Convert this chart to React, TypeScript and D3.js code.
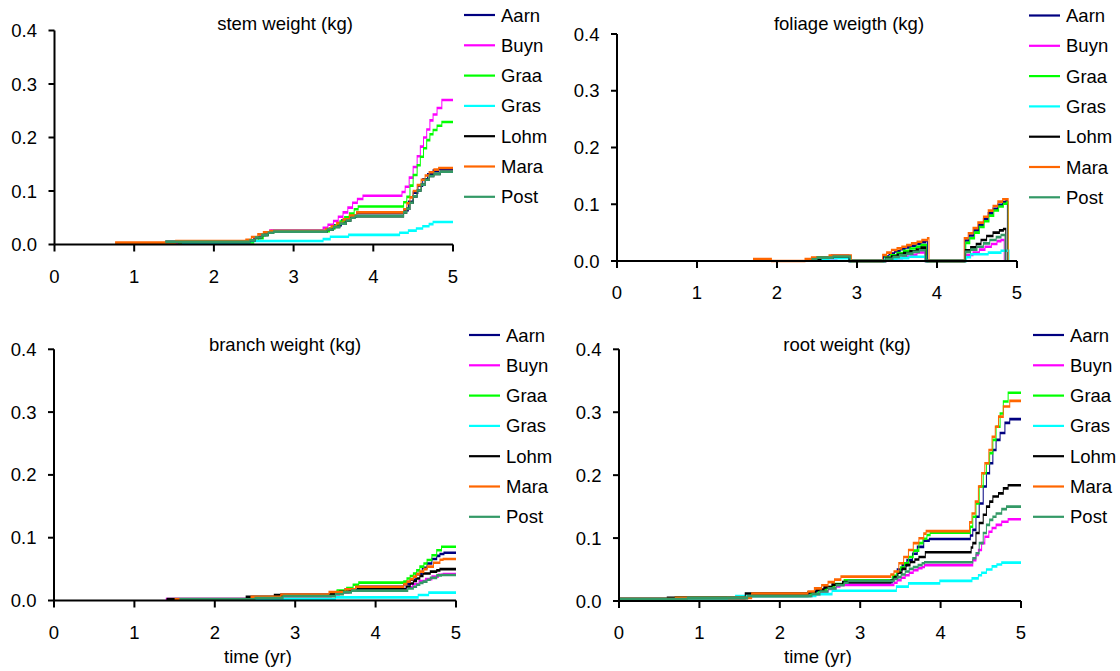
import React from 'react';
import * as d3 from 'd3';

type Pt = [number, number];

const SERIES = ['Aarn', 'Buyn', 'Graa', 'Gras', 'Lohm', 'Mara', 'Post'];
const COLORS = ['#000080', '#FF00FF', '#00FF00', '#00FFFF', '#000000', '#FF6600', '#339966'];
const X_TICKS = [0, 1, 2, 3, 4, 5];
const Y_TICKS = [0, 0.1, 0.2, 0.3, 0.4];
const Y_TICK_LABELS = ['0.0', '0.1', '0.2', '0.3', '0.4'];
const TITLES = ['stem weight (kg)', 'foliage weigth (kg)', 'branch weight (kg)', 'root weight (kg)'];
const X_LABEL = 'time (yr)';

// order: Aarn, Buyn, Graa, Gras, Lohm, Mara, Post
const stemSeries: Pt[][] = [
  [[1.5,0.004],[2.42,0.008],[2.5,0.013],[2.58,0.018],[2.65,0.022],[2.72,0.025],[3.4,0.029],[3.5,0.036],[3.6,0.045],[3.7,0.053],[3.79,0.059],[4.38,0.064],[4.44,0.080],[4.5,0.097],[4.56,0.110],[4.62,0.122],[4.68,0.131],[4.75,0.138],[4.82,0.141],[5,0.141]],
  [[1.45,0.003],[2.45,0.007],[2.52,0.012],[2.58,0.018],[2.63,0.022],[2.7,0.026],[3.37,0.031],[3.43,0.037],[3.5,0.044],[3.56,0.052],[3.62,0.060],[3.68,0.069],[3.74,0.078],[3.8,0.085],[3.87,0.091],[4.36,0.098],[4.4,0.108],[4.45,0.125],[4.5,0.145],[4.55,0.165],[4.59,0.183],[4.63,0.200],[4.67,0.215],[4.71,0.232],[4.75,0.243],[4.8,0.255],[4.86,0.270],[5,0.270]],
  [[1.55,0.004],[2.5,0.007],[2.56,0.012],[2.62,0.018],[2.68,0.022],[2.75,0.025],[3.45,0.030],[3.52,0.036],[3.58,0.043],[3.64,0.051],[3.7,0.058],[3.76,0.066],[3.81,0.071],[4.38,0.079],[4.42,0.089],[4.46,0.110],[4.5,0.130],[4.55,0.148],[4.59,0.164],[4.63,0.180],[4.67,0.195],[4.71,0.206],[4.75,0.214],[4.8,0.222],[4.86,0.229],[5,0.229]],
  [[1.6,0.003],[2.45,0.0065],[3.37,0.010],[3.46,0.0146],[3.69,0.018],[4.33,0.022],[4.44,0.026],[4.54,0.030],[4.62,0.034],[4.7,0.038],[4.75,0.042],[5,0.042]],
  [[1.39,0.005],[2.45,0.008],[2.52,0.013],[2.6,0.018],[2.68,0.022],[2.75,0.024],[3.42,0.028],[3.5,0.033],[3.58,0.039],[3.66,0.045],[3.72,0.050],[3.77,0.053],[4.38,0.060],[4.42,0.067],[4.46,0.078],[4.5,0.090],[4.55,0.101],[4.6,0.112],[4.65,0.121],[4.7,0.128],[4.76,0.132],[4.84,0.136],[5,0.136]],
  [[0.76,0.0035],[1.52,0.0065],[2.4,0.009],[2.47,0.014],[2.55,0.019],[2.62,0.023],[2.7,0.025],[3.4,0.029],[3.47,0.034],[3.54,0.040],[3.62,0.047],[3.7,0.054],[3.79,0.060],[4.38,0.066],[4.42,0.077],[4.46,0.088],[4.5,0.100],[4.55,0.111],[4.6,0.121],[4.65,0.129],[4.7,0.135],[4.76,0.140],[4.82,0.143],[5,0.143]],
  [[1.39,0.005],[2.45,0.008],[2.52,0.013],[2.6,0.018],[2.68,0.022],[2.75,0.024],[3.42,0.028],[3.5,0.033],[3.58,0.039],[3.66,0.045],[3.72,0.050],[3.77,0.053],[4.38,0.060],[4.42,0.067],[4.46,0.078],[4.5,0.090],[4.55,0.101],[4.6,0.112],[4.65,0.121],[4.7,0.128],[4.76,0.132],[4.84,0.136],[5,0.136]],
];

const foliageSeries: Pt[][] = [
  [[2.4,0.003],[2.5,0.006],[2.68,0.009],[2.9,0],[3.33,0.008],[3.4,0.013],[3.47,0.017],[3.54,0.021],[3.6,0.024],[3.67,0.027],[3.74,0.030],[3.8,0.033],[3.86,0.036],[3.88,0],[4.35,0.036],[4.4,0.045],[4.46,0.054],[4.52,0.064],[4.58,0.074],[4.64,0.084],[4.7,0.092],[4.76,0.099],[4.82,0.104],[4.86,0.106],[4.88,0]],
  [[2.45,0.002],[2.6,0.005],[2.75,0.007],[2.9,0],[3.37,0.003],[3.47,0.005],[3.57,0.008],[3.67,0.011],[3.75,0.015],[3.85,0],[4.36,0.0106],[4.45,0.015],[4.53,0.020],[4.6,0.025],[4.68,0.030],[4.75,0.035],[4.8,0.037],[4.84,0]],
  [[2.42,0.003],[2.5,0.006],[2.7,0.008],[2.9,0],[3.35,0.006],[3.42,0.010],[3.5,0.014],[3.58,0.018],[3.66,0.022],[3.74,0.025],[3.8,0.028],[3.87,0],[4.36,0.032],[4.41,0.040],[4.47,0.050],[4.53,0.060],[4.59,0.070],[4.65,0.080],[4.71,0.089],[4.77,0.096],[4.83,0.101],[4.87,0.103],[4.89,0]],
  [[2.5,0.002],[2.65,0.005],[2.92,0],[3.35,0.003],[3.5,0.005],[3.65,0.0076],[3.86,0],[4.37,0.0065],[4.42,0.0118],[4.64,0.0147],[4.8,0.018],[4.9,0]],
  [[2.42,0.003],[2.55,0.006],[2.7,0.008],[2.9,0],[3.36,0.005],[3.43,0.008],[3.5,0.011],[3.58,0.014],[3.66,0.017],[3.74,0.020],[3.8,0.0235],[3.86,0],[4.35,0.019],[4.42,0.024],[4.49,0.030],[4.55,0.037],[4.62,0.044],[4.7,0.050],[4.78,0.054],[4.83,0.0564],[4.86,0]],
  [[1.7,0.0035],[1.93,0],[2.35,0.0035],[2.43,0.006],[2.65,0.0095],[2.93,0],[3.32,0.0106],[3.37,0.0147],[3.43,0.0194],[3.5,0.0223],[3.56,0.025],[3.62,0.028],[3.68,0.031],[3.75,0.034],[3.81,0.037],[3.88,0.040],[3.9,0],[4.34,0.040],[4.39,0.049],[4.45,0.058],[4.51,0.0676],[4.58,0.078],[4.64,0.0887],[4.7,0.097],[4.76,0.1046],[4.82,0.1087],[4.89,0]],
  [[2.43,0.003],[2.5,0.006],[2.7,0.008],[2.92,0],[3.36,0.004],[3.45,0.007],[3.53,0.010],[3.62,0.013],[3.7,0.016],[3.78,0.019],[3.85,0],[4.35,0.016],[4.42,0.020],[4.5,0.025],[4.58,0.031],[4.66,0.037],[4.74,0.042],[4.8,0.0458],[4.85,0]],
];

const branchSeries: Pt[][] = [
  [[1.45,0.002],[2.45,0.005],[2.82,0.009],[3.44,0.012],[3.52,0.014],[3.62,0.018],[3.75,0.022],[4.35,0.026],[4.43,0.033],[4.5,0.042],[4.58,0.052],[4.64,0.059],[4.7,0.066],[4.76,0.071],[4.8,0.074],[4.85,0.076],[5,0.076]],
  [[1.39,0.0024],[2.45,0.004],[2.8,0.007],[3.45,0.010],[3.55,0.013],[3.67,0.016],[3.77,0.0178],[4.38,0.021],[4.46,0.026],[4.54,0.031],[4.62,0.034],[4.7,0.038],[4.78,0.041],[4.84,0.042],[5,0.042]],
  [[1.58,0.002],[2.45,0.004],[2.8,0.008],[3.44,0.012],[3.52,0.0157],[3.64,0.020],[3.72,0.025],[3.79,0.0284],[4.35,0.030],[4.39,0.035],[4.43,0.039],[4.47,0.043],[4.51,0.048],[4.55,0.054],[4.6,0.059],[4.64,0.0645],[4.7,0.072],[4.76,0.080],[4.82,0.0857],[5,0.0857]],
  [[1.55,0.0015],[2.45,0.0025],[3.5,0.005],[4.53,0.0088],[4.66,0.0125],[5,0.0125]],
  [[1.4,0.0024],[2.39,0.006],[2.74,0.0088],[3.44,0.011],[3.55,0.014],[3.67,0.016],[3.77,0.018],[4.38,0.022],[4.43,0.027],[4.47,0.031],[4.51,0.035],[4.55,0.039],[4.59,0.043],[4.68,0.046],[4.76,0.048],[4.8,0.050],[5,0.050]],
  [[1.5,0.002],[2.45,0.006],[2.82,0.0095],[3.42,0.0136],[3.62,0.018],[3.75,0.022],[4.35,0.026],[4.39,0.030],[4.43,0.034],[4.47,0.038],[4.51,0.042],[4.55,0.046],[4.6,0.050],[4.64,0.054],[4.72,0.060],[4.8,0.065],[4.84,0.066],[5,0.066]],
  [[1.56,0.002],[2.5,0.004],[2.85,0.007],[3.5,0.010],[3.6,0.013],[3.7,0.0157],[4.4,0.019],[4.47,0.022],[4.51,0.025],[4.55,0.028],[4.59,0.030],[4.64,0.033],[4.68,0.036],[4.76,0.040],[4.82,0.0406],[5,0.0406]],
];

const rootSeries: Pt[][] = [
  [[0,0.003],[0.7,0.005],[1.6,0.008],[2.35,0.012],[2.45,0.016],[2.55,0.021],[2.65,0.026],[2.8,0.030],[3.4,0.036],[3.46,0.050],[3.52,0.057],[3.58,0.065],[3.65,0.075],[3.71,0.086],[3.79,0.096],[3.86,0.0986],[4.37,0.104],[4.4,0.113],[4.44,0.134],[4.48,0.155],[4.53,0.182],[4.57,0.203],[4.61,0.219],[4.65,0.240],[4.69,0.256],[4.74,0.267],[4.8,0.283],[4.86,0.289],[5,0.289]],
  [[0,0.003],[0.8,0.005],[1.6,0.008],[2.4,0.011],[2.5,0.015],[2.6,0.019],[2.7,0.023],[2.75,0.0254],[3.42,0.029],[3.46,0.033],[3.51,0.037],[3.56,0.041],[3.61,0.045],[3.66,0.049],[3.72,0.052],[3.77,0.054],[3.8,0.057],[4.4,0.065],[4.44,0.073],[4.47,0.081],[4.51,0.092],[4.55,0.102],[4.6,0.110],[4.64,0.116],[4.69,0.121],[4.76,0.126],[4.84,0.130],[5,0.130]],
  [[0,0.003],[0.7,0.005],[1.6,0.008],[2.38,0.012],[2.48,0.017],[2.58,0.022],[2.68,0.027],[2.8,0.033],[3.4,0.040],[3.45,0.046],[3.5,0.053],[3.55,0.060],[3.6,0.070],[3.66,0.080],[3.73,0.092],[3.78,0.099],[3.83,0.105],[3.87,0.1086],[4.37,0.118],[4.4,0.134],[4.44,0.155],[4.48,0.182],[4.53,0.203],[4.57,0.219],[4.61,0.235],[4.65,0.256],[4.69,0.277],[4.74,0.298],[4.78,0.317],[4.84,0.331],[5,0.331]],
  [[0,0.002],[1.35,0.005],[1.45,0.008],[2.45,0.011],[2.65,0.0164],[3.45,0.0228],[3.6,0.028],[3.99,0.032],[4.39,0.036],[4.47,0.041],[4.51,0.045],[4.57,0.050],[4.64,0.055],[4.7,0.058],[4.76,0.061],[5,0.061]],
  [[0,0.003],[0.6,0.005],[1.57,0.012],[2.35,0.014],[2.45,0.018],[2.55,0.022],[2.65,0.026],[2.78,0.030],[3.38,0.033],[3.42,0.038],[3.47,0.045],[3.52,0.051],[3.57,0.057],[3.62,0.062],[3.68,0.066],[3.73,0.070],[3.81,0.0774],[4.38,0.085],[4.4,0.092],[4.44,0.108],[4.48,0.124],[4.53,0.137],[4.57,0.150],[4.61,0.158],[4.65,0.166],[4.72,0.171],[4.78,0.179],[4.84,0.184],[5,0.184]],
  [[0,0.003],[0.7,0.005],[1.65,0.012],[2.35,0.015],[2.43,0.020],[2.52,0.025],[2.6,0.030],[2.68,0.034],[2.76,0.0387],[3.38,0.042],[3.42,0.047],[3.48,0.060],[3.54,0.070],[3.6,0.081],[3.66,0.092],[3.73,0.0997],[3.79,0.107],[3.82,0.111],[4.36,0.125],[4.39,0.139],[4.43,0.158],[4.47,0.182],[4.51,0.203],[4.55,0.219],[4.6,0.240],[4.64,0.261],[4.68,0.277],[4.72,0.293],[4.78,0.309],[4.86,0.318],[5,0.318]],
  [[0,0.003],[0.85,0.005],[1.6,0.008],[2.4,0.011],[2.5,0.015],[2.6,0.020],[2.7,0.025],[2.8,0.029],[2.85,0.032],[3.42,0.035],[3.46,0.038],[3.51,0.042],[3.56,0.047],[3.61,0.051],[3.66,0.054],[3.72,0.057],[3.77,0.060],[3.8,0.0615],[4.4,0.068],[4.44,0.076],[4.48,0.092],[4.53,0.108],[4.57,0.121],[4.61,0.129],[4.65,0.134],[4.69,0.139],[4.76,0.146],[4.82,0.150],[5,0.150]],
];

const PANEL_DATA = [stemSeries, foliageSeries, branchSeries, rootSeries];

// layout (pixels)
const LAYOUT = [
  { x0: 54.5, x1: 453, yB: 244.5, yT: 30.5, tx: 285, ty: 23, lx: 464, ly: 15, xl: null as null | number },
  { x0: 617, x1: 1017, yB: 261, yT: 34, tx: 849, ty: 23, lx: 1029, ly: 15.5, xl: null as null | number },
  { x0: 54, x1: 456, yB: 600.5, yT: 349.3, tx: 285, ty: 344, lx: 469, ly: 335, xl: 258 },
  { x0: 619, x1: 1021, yB: 601, yT: 349.3, tx: 847, ty: 344, lx: 1033, ly: 335, xl: 818 },
];

const FONT = "Arial, 'Liberation Sans', sans-serif";
const FS = 18.5;
const K = 2.6; // non-uniform stroke: thick horizontals, thin verticals

function Panel({ idx }: { idx: number }) {
  const L = LAYOUT[idx];
  const data = PANEL_DATA[idx];
  const xs = d3.scaleLinear().domain([0, 5]).range([L.x0, L.x1]);
  const ys = d3.scaleLinear().domain([0, 0.4]).range([L.yB, L.yT]);
  const line = d3
    .line<Pt>()
    .x((d) => xs(d[0]))
    .y((d) => ys(d[1]) / K)
    .curve(d3.curveStepAfter);
  return (
    <g>
      <text x={L.tx} y={L.ty} textAnchor="middle" dominantBaseline="central" fontSize={FS} fontFamily={FONT} fill="#000">
        {TITLES[idx]}
      </text>
      <g transform={`scale(1,${K})`}>
        {data.map((s, i) => (
          <path key={i} d={line(s) || ''} fill="none" stroke={COLORS[i]} strokeWidth={1} strokeLinejoin="miter" />
        ))}
      </g>
      {/* axes */}
      <line x1={xs(0)} x2={xs(5)} y1={ys(0)} y2={ys(0)} stroke="#000" strokeWidth={2} />
      <line x1={xs(0)} x2={xs(0)} y1={ys(0)} y2={ys(0.4)} stroke="#000" strokeWidth={2} />
      {Y_TICKS.map((t, i) => (
        <g key={'y' + i}>
          <line x1={xs(0) - 6} x2={xs(0)} y1={ys(t)} y2={ys(t)} stroke="#000" strokeWidth={2} />
          <text x={xs(0) - 17.5} y={ys(t)} textAnchor="end" dominantBaseline="central" fontSize={FS} fontFamily={FONT} fill="#000">
            {Y_TICK_LABELS[i]}
          </text>
        </g>
      ))}
      {X_TICKS.map((t) => (
        <g key={'x' + t}>
          <line x1={xs(t)} x2={xs(t)} y1={ys(0)} y2={ys(0) + 7} stroke="#000" strokeWidth={2} />
          <text x={xs(t)} y={ys(0) + 31.5} textAnchor="middle" dominantBaseline="central" fontSize={FS} fontFamily={FONT} fill="#000">
            {t}
          </text>
        </g>
      ))}
      {L.xl !== null && (
        <text x={L.xl} y={656.5} textAnchor="middle" dominantBaseline="central" fontSize={FS} fontFamily={FONT} fill="#000">
          {X_LABEL}
        </text>
      )}
      {/* legend */}
      {SERIES.map((name, i) => (
        <g key={name}>
          <line x1={L.lx} x2={L.lx + 31} y1={L.ly + i * 30.3} y2={L.ly + i * 30.3} stroke={COLORS[i]} strokeWidth={2.2} />
          <text x={L.lx + 37} y={L.ly + i * 30.3} dominantBaseline="central" fontSize={FS} fontFamily={FONT} fill="#000">
            {name}
          </text>
        </g>
      ))}
    </g>
  );
}

export default function App() {
  return (
    <svg
      width={1120}
      height={671}
      viewBox="0 0 1120 671"
      style={{ position: 'absolute', left: 0, top: 0, background: '#fff' }}
    >
      <rect width={1120} height={671} fill="#fff" />
      {[0, 1, 2, 3].map((i) => (
        <Panel key={i} idx={i} />
      ))}
    </svg>
  );
}
